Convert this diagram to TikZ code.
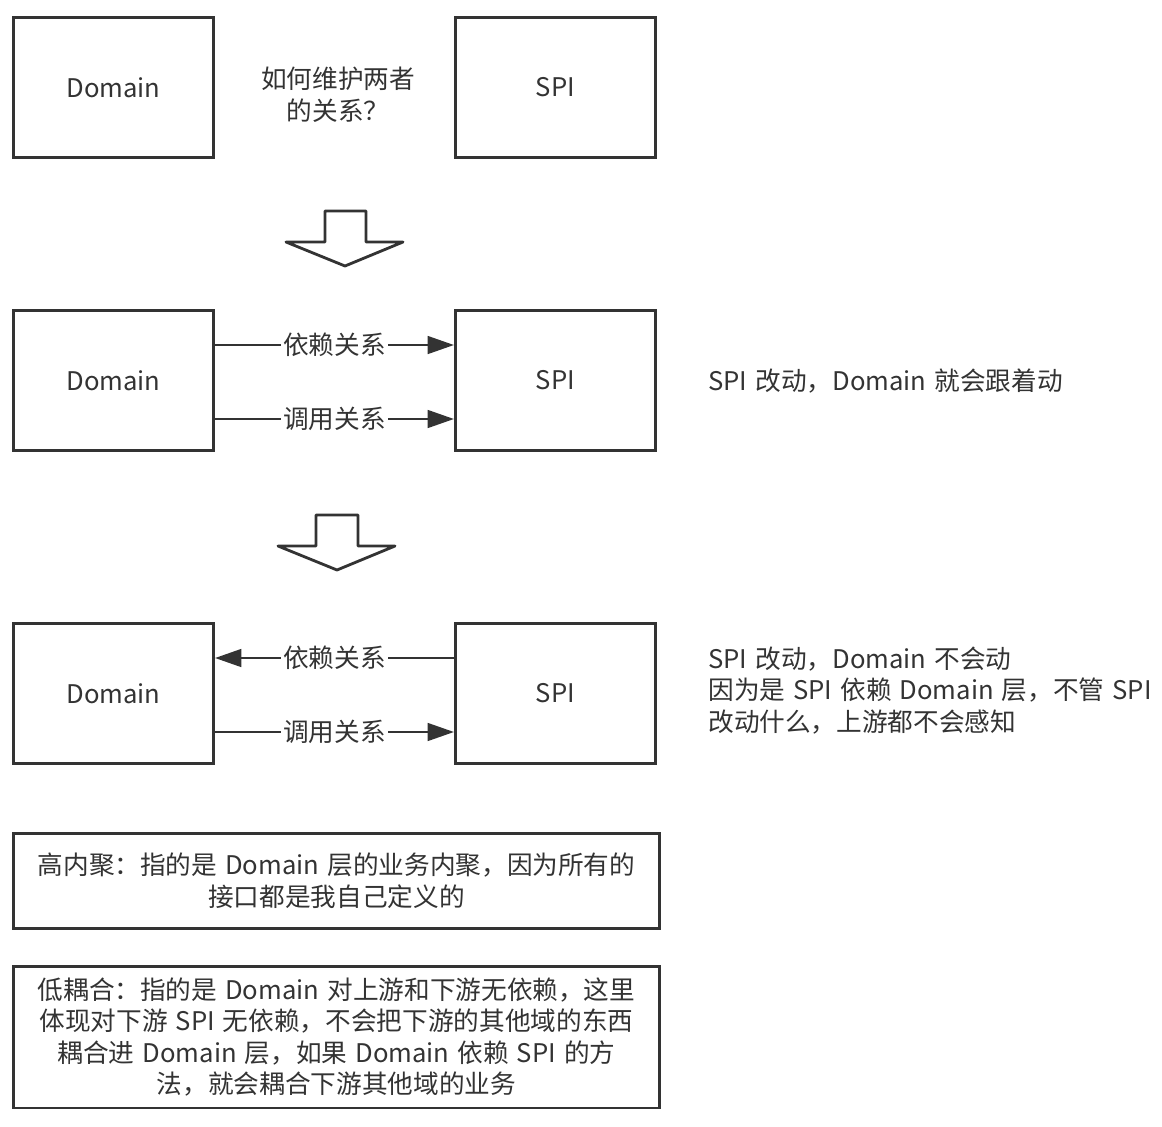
\documentclass[tikz,border=0pt]{standalone}
\usepackage{fontspec}
\setmainfont[WordSpace=1.4]{Noto Sans CJK SC}
\usetikzlibrary{arrows.meta}
\definecolor{ink}{HTML}{333333}
\tikzset{
	box/.style={draw=ink, line width=1.7pt, minimum width=4cm, minimum height=2.8cm, text=ink},
	note/.style={draw=ink, line width=1.7pt, minimum width=12.94cm, align=center, text=ink},
	rel/.style={fill=white, inner sep=1pt, text=ink},
	link/.style={draw=ink, line width=1.6pt, -{Triangle[length=15pt,width=10pt]}},
	hollow/.style={draw=ink, line width=1.6pt, line join=round},
	side/.style={anchor=west, align=left, text=ink, inner sep=0pt}
}
\begin{document}
\begin{tikzpicture}[x=0.02cm, y=-0.02cm, font=\fontsize{14.6}{18}\selectfont]
\useasboundingbox (0,0) rectangle (1162,1126);
% Zeile 1
\node[box] (d1) at (113.5,87.5) {Domain};
\node[box] (s1) at (555.5,87.5) {SPI};
\node[align=center, text=ink] (q) at (338,95) {如何维护两者\\的关系？};
% Pfeil 1
\draw[hollow] (325,211) -- (366,211) -- (366,242) -- (403,242) -- (345,266) -- (286,242) -- (325,242) -- cycle;
% Zeile 2
\node[box] (d2) at (113.5,380.5) {Domain};
\node[box] (s2) at (555.5,380.5) {SPI};
\draw[link] ([yshift=0.71cm]d2.east) -- node[rel] {依赖关系} ([yshift=0.71cm]s2.west);
\draw[link] ([yshift=-0.77cm]d2.east) -- node[rel] {调用关系} ([yshift=-0.77cm]s2.west);
\node[side] (t2) at (708,381) {SPI 改动，Domain 就会跟着动};
% Pfeil 2
\draw[hollow] (316,515) -- (358,515) -- (358,546) -- (395,546) -- (337,570) -- (278,546) -- (316,546) -- cycle;
% Zeile 3
\node[box] (d3) at (113.5,693.5) {Domain};
\node[box] (s3) at (555.5,693.5) {SPI};
\draw[link] ([yshift=0.71cm]s3.west) -- node[rel] {依赖关系} ([yshift=0.71cm]d3.east);
\draw[link] ([yshift=-0.77cm]d3.east) -- node[rel] {调用关系} ([yshift=-0.77cm]s3.west);
\node[side] (t3) at (708,690.5) {SPI 改动，Domain 不会动\\因为是 SPI 依赖 Domain 层，不管 SPI\\改动什么，上游都不会感知};
% Erklaerungen
\node[note, minimum height=1.9cm] (n1) at (336.5,880.5) {高内聚：指的是 Domain 层的业务内聚，因为所有的\\接口都是我自己定义的};
\node[note, minimum height=2.84cm] (n2) at (336.5,1037) {低耦合：指的是 Domain 对上游和下游无依赖，这里\\体现对下游 SPI 无依赖，不会把下游的其他域的东西\\耦合进 Domain 层，如果 Domain 依赖 SPI 的方\\法，就会耦合下游其他域的业务};
\end{tikzpicture}
\end{document}
